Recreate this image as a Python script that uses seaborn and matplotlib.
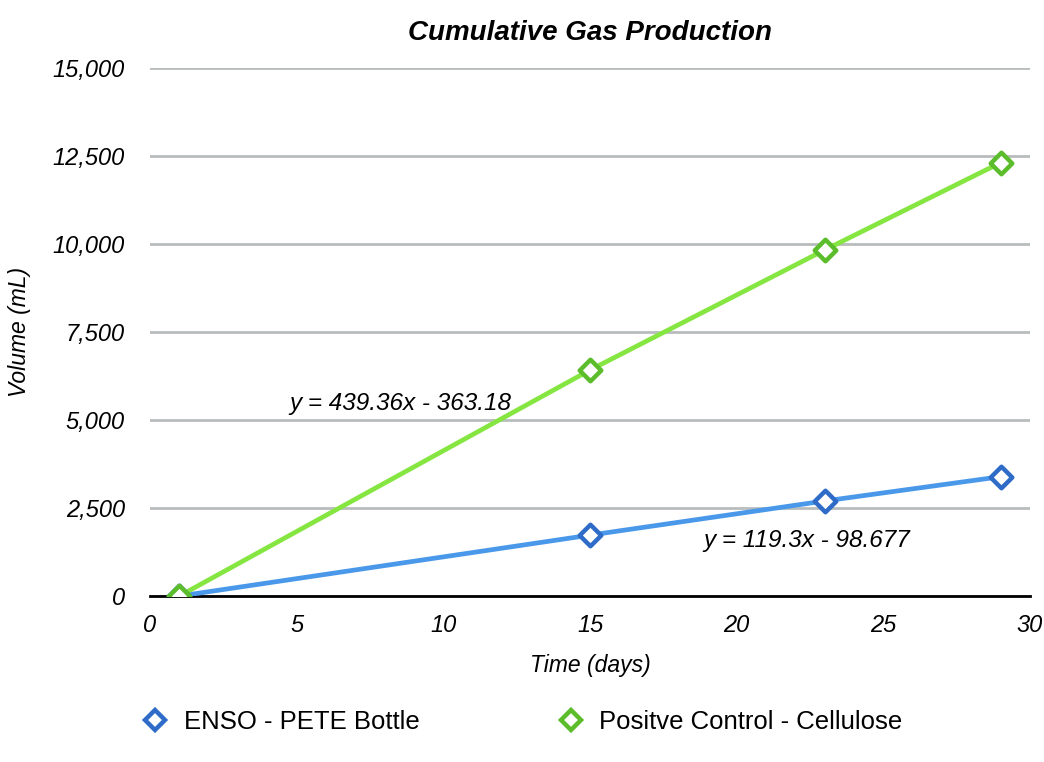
#!/usr/bin/env python3
# -*- coding: utf-8 -*-

import numpy as np
import matplotlib
matplotlib.use('Agg')
import matplotlib.pyplot as plt
from matplotlib.lines import Line2D
import seaborn as sns
import pandas as pd

days = [1, 15, 23, 29]
enso_volume = [0, 1730, 2700, 3390]
cellulose_volume = [0, 6420, 9830, 12310]
series_names = ['ENSO - PETE Bottle', 'Positve Control - Cellulose']
equations = ['y = 119.3x - 98.677', 'y = 439.36x - 363.18']
y_ticks = [0, 2500, 5000, 7500, 10000, 12500, 15000]
x_ticks = [0, 5, 10, 15, 20, 25, 30]

sns.set_theme(style='white')
plt.rcParams['font.family'] = ['Liberation Sans', 'DejaVu Sans']
plt.rcParams['text.color'] = 'black'
plt.rcParams['axes.labelcolor'] = 'black'
plt.rcParams['xtick.color'] = 'black'
plt.rcParams['ytick.color'] = 'black'

line_colors = ['#4a98ea', '#86e641']
edge_colors = ['#2f6cc8', '#5cbd2c']

df = pd.DataFrame({
    'Time (days)': days * 2,
    'Volume (mL)': enso_volume + cellulose_volume,
    'series': [series_names[0]] * len(days) + [series_names[1]] * len(days),
})

fig = plt.figure(figsize=(10.44, 7.62), dpi=100)
ax = fig.add_axes([0.1437, 0.2178, 0.8429, 0.693])

sns.lineplot(data=df, x='Time (days)', y='Volume (mL)', hue='series',
             palette=line_colors, linewidth=3.4, legend=False, ax=ax, zorder=3)
for i, name in enumerate(series_names):
    sub = df[df['series'] == name]
    sns.scatterplot(data=sub, x='Time (days)', y='Volume (mL)', marker='D',
                    s=120, facecolor='white', edgecolor=edge_colors[i],
                    linewidth=3.2, ax=ax, zorder=4, legend=False)

ax.set_xlim(0, 30)
ax.set_ylim(0, 15000)
ax.set_xticks(x_ticks)
ax.set_yticks(y_ticks)
ax.set_xticklabels([str(t) for t in x_ticks], fontstyle='italic', fontsize=17)
ax.set_yticklabels([f'{t:,}' for t in y_ticks], fontstyle='italic', fontsize=17)
ax.tick_params(axis='x', length=0, pad=13)
ax.tick_params(axis='y', length=0, pad=18)
ax.yaxis.grid(True, color='#b8bcbc', linewidth=2)
ax.set_axisbelow(True)
for side in ['top', 'right', 'left']:
    ax.spines[side].set_visible(False)
ax.spines['bottom'].set_color('black')
ax.spines['bottom'].set_linewidth(2)
ax.spines['bottom'].set_zorder(2)

ax.set_xlabel('Time (days)', fontstyle='italic', fontsize=16.5, labelpad=12)
ax.set_ylabel('Volume (mL)', fontstyle='italic', fontsize=16.5, va='center')
ax.yaxis.set_label_coords(-0.148, 0.5)
ax.set_title('Cumulative Gas Production', fontstyle='italic', fontweight='bold',
             fontsize=20, pad=20)

ax.text(8.55, 5480, equations[1], fontstyle='italic', fontsize=17.5,
        ha='center', va='center', zorder=5)
ax.text(22.4, 1590, equations[0], fontstyle='italic', fontsize=17.5,
        ha='center', va='center', zorder=5)

handles = [Line2D([], [], linestyle='none', marker='D', markersize=10,
                  markerfacecolor='white', markeredgecolor=edge_colors[i],
                  markeredgewidth=3.2) for i in range(2)]
fig.legend(handles, series_names, loc='center left', bbox_to_anchor=(0.112, 0.053),
           ncol=2, frameon=False, fontsize=18.5, columnspacing=5.3,
           handletextpad=0.5, handlelength=1.2)

fig.savefig('out.png', dpi=100)
